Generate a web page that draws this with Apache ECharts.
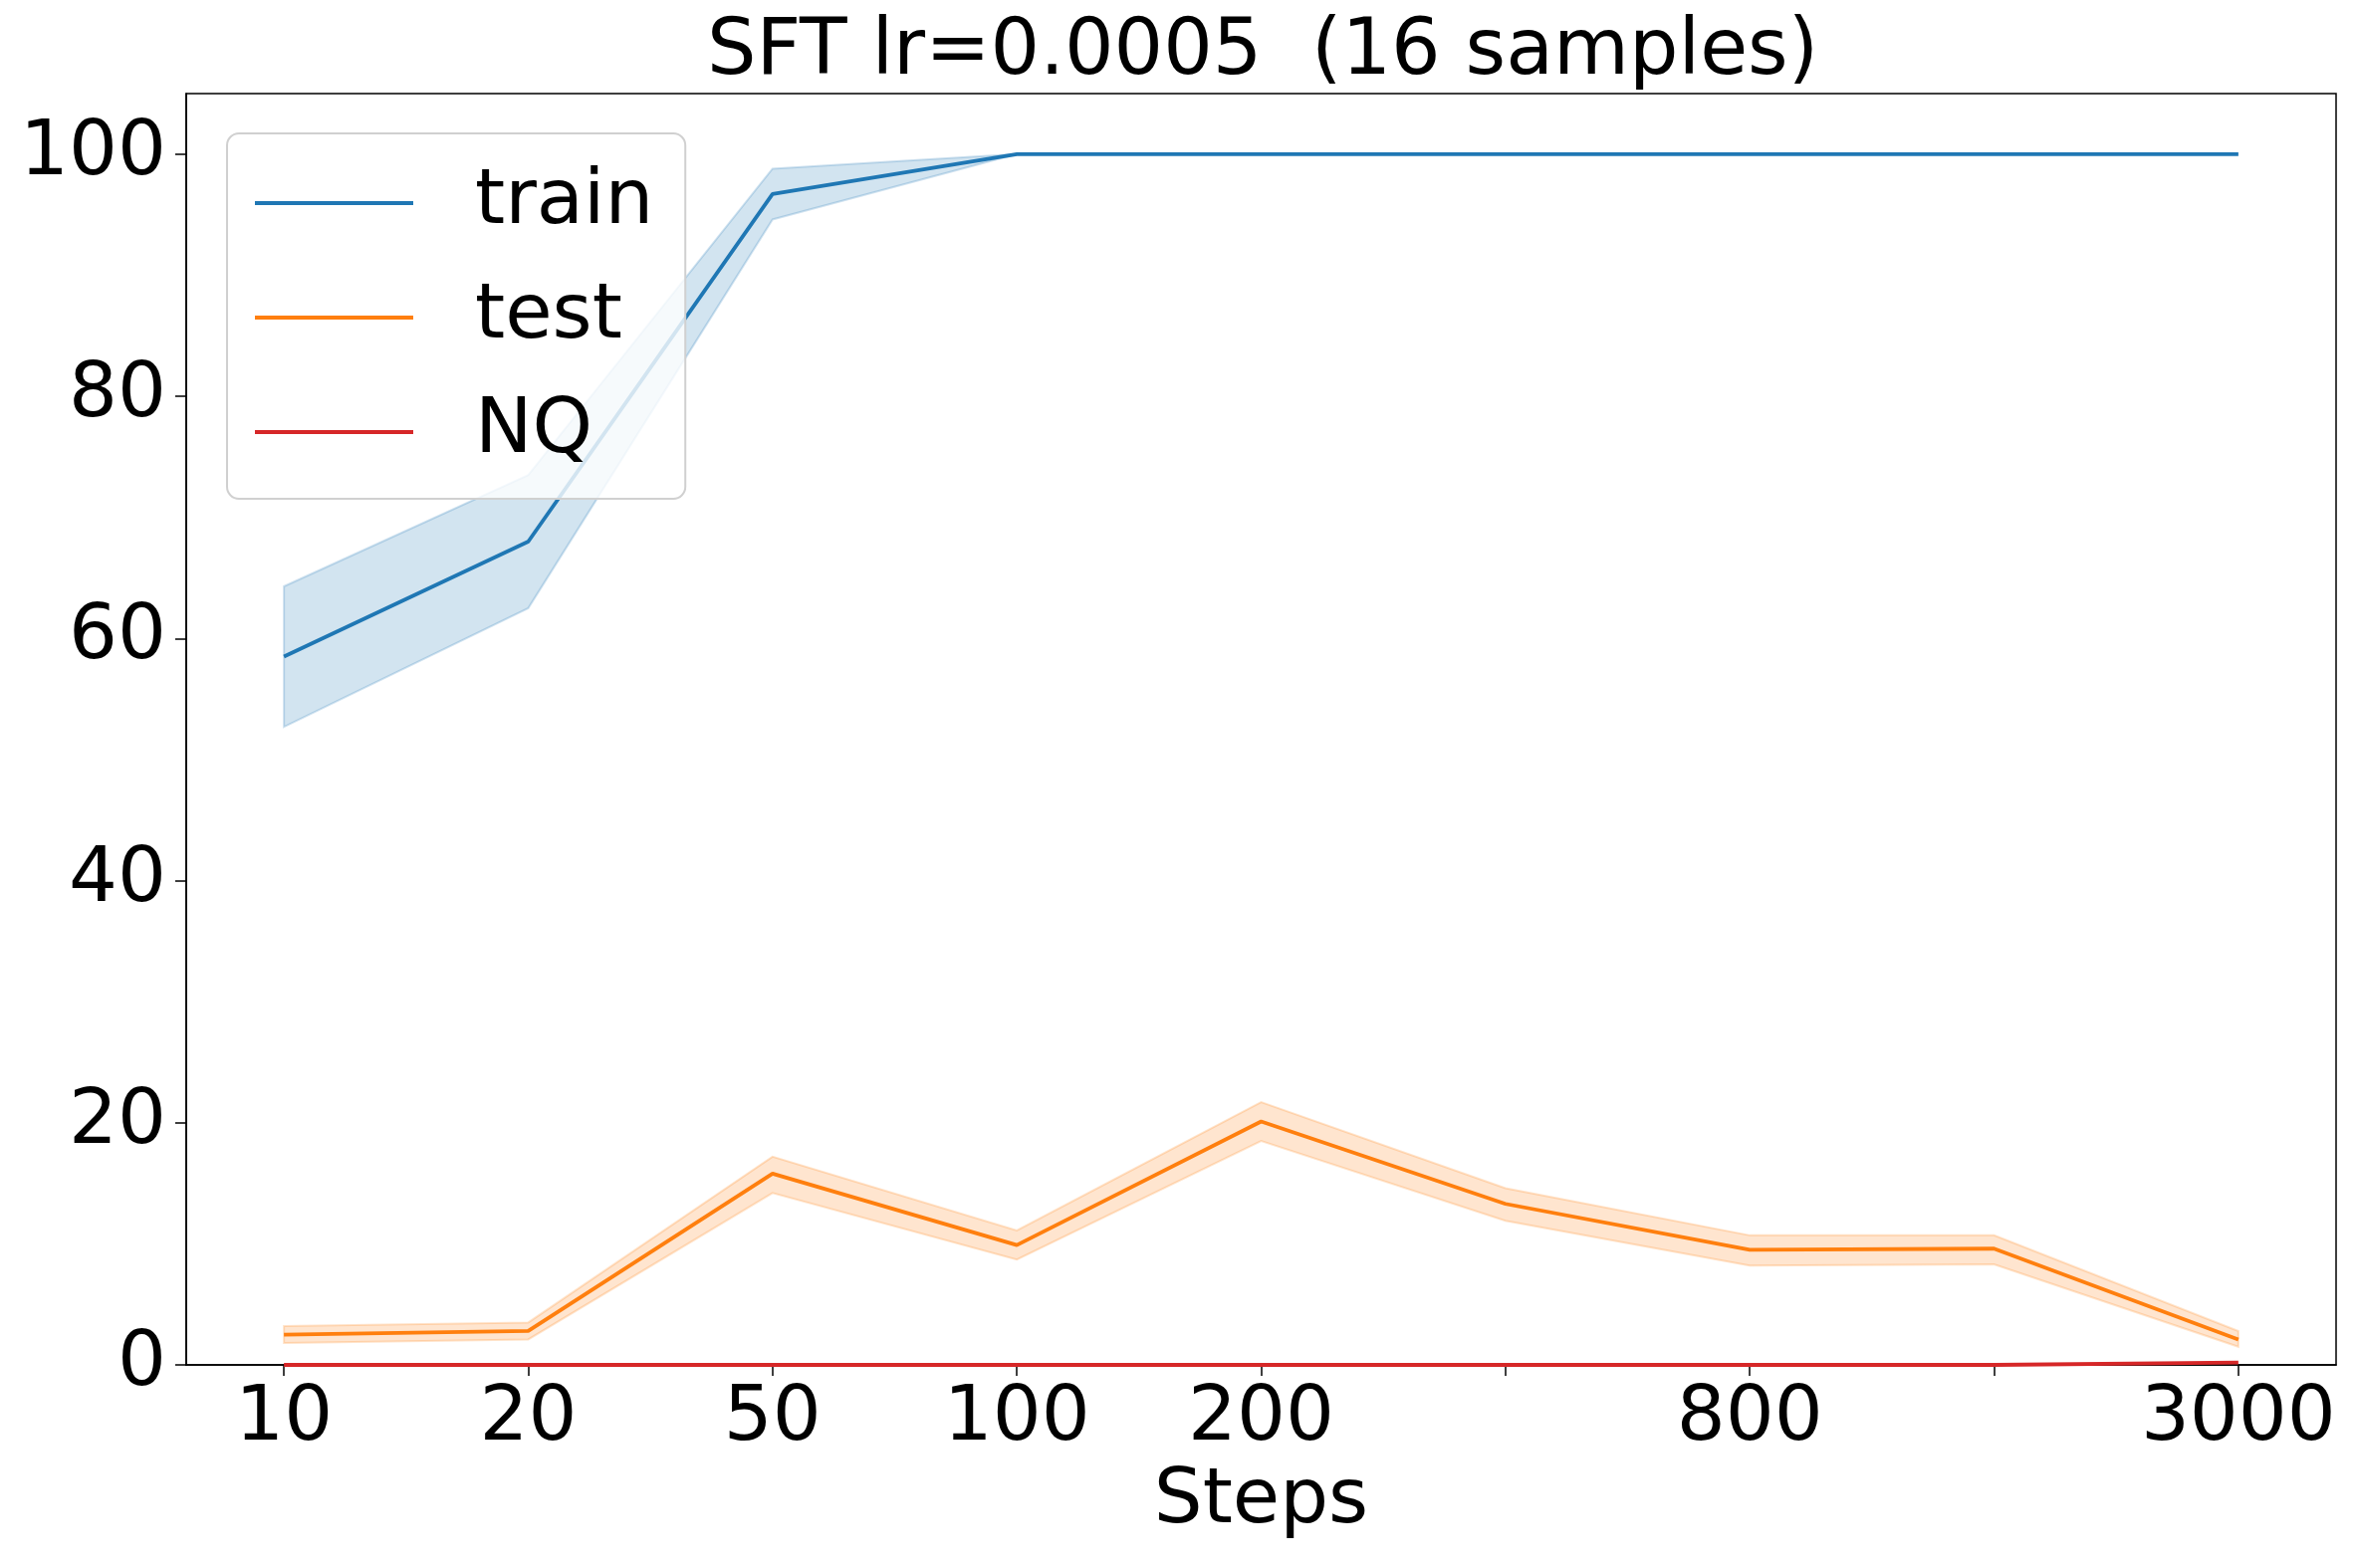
<!DOCTYPE html>
<html>
<head>
<meta charset="utf-8">
<script src="https://cdn.jsdelivr.net/npm/echarts@6/dist/echarts.min.js"></script>
<style>
  html, body { margin: 0; padding: 0; background: #fff; }
  #chart { width: 2365px; height: 1575px; }
</style>
</head>
<body>
<div id="chart"></div>
<script>
// x 轴标签（空字符串的位置只有刻度没有文字）
const stepLabels = ['10', '20', '50', '100', '200', '', '800', '', '3000']

// train
const trainMean = [58.5, 68.0, 96.7, 100, 100, 100, 100, 100, 100]
const trainLow = [52.7, 62.5, 94.6, 100, 100, 100, 100, 100, 100]
const trainHigh = [64.3, 73.5, 98.8, 100, 100, 100, 100, 100, 100]

// test
const testMean = [2.5, 2.8, 15.8, 9.9, 20.1, 13.3, 9.5, 9.6, 2.1]
const testLow = [1.8, 2.1, 14.2, 8.7, 18.5, 11.9, 8.2, 8.3, 1.5]
const testHigh = [3.2, 3.5, 17.2, 11.1, 21.7, 14.6, 10.7, 10.7, 2.8]

// NQ
const nqMean = [0, 0, 0, 0, 0, 0, 0, 0, 0.2]

const yTicks = [0, 20, 40, 60, 80, 100]

const FONT = 'DejaVu Sans'
const BLUE = '#1f77b4'
const ORANGE = '#ff7f0e'
const RED = '#d62728'

// 把数组转成 [index, value]
const pts = (arr) => arr.map((v, i) => [i, v])

// 置信区间带：用 custom 系列画一个多边形（下沿正向 + 上沿反向）
const band = (name, lo, hi, rgb) => ({
  name: name,
  type: 'custom',
  silent: true,
  data: lo.map((v, i) => [i, v, hi[i]]),
  encode: { x: 0, y: [1, 2] },
  z: 1,
  renderItem: (params, api) => {
    if (params.dataIndex !== 0) return null
    let lower = []
    let upper = []
    for (let j = 0; j < lo.length; j++) {
      lower.push(api.coord([api.value(0, j), api.value(1, j)]))
      upper.push(api.coord([api.value(0, j), api.value(2, j)]))
    }
    return {
      type: 'polygon',
      shape: { points: lower.concat(upper.reverse()) },
      style: {
        fill: `rgba(${rgb},0.2)`,
        stroke: `rgba(${rgb},0.22)`,
        lineWidth: 2
      }
    }
  }
})

const meanLine = (name, data, color) => ({
  name: name,
  type: 'line',
  data: pts(data),
  symbol: 'none',
  lineStyle: { color: color, width: 3.8 },
  itemStyle: { color: color },
  z: 3
})

let chart = echarts.init(document.getElementById('chart'))

let option = {
  animation: false,
  backgroundColor: '#fff',
  textStyle: { fontFamily: FONT },
  title: {
    text: 'SFT lr=0.0005  (16 samples)',
    left: 710,
    top: 15,
    padding: 0,
    textStyle: { fontFamily: FONT, fontSize: 78, fontWeight: 'normal', color: '#000' }
  },
  grid: {
    left: 187,
    right: 19,
    top: 94,
    bottom: 204,
    show: true,
    borderColor: '#000',
    borderWidth: 1.5,
    backgroundColor: 'transparent'
  },
  legend: {
    left: 228,
    top: 134,
    orient: 'vertical',
    data: [
      { name: 'train', icon: 'rect' },
      { name: 'test', icon: 'rect' },
      { name: 'NQ', icon: 'rect' }
    ],
    itemWidth: 159,
    itemHeight: 4,
    itemGap: 25,
    padding: [25, 32, 22, 28],
    backgroundColor: 'rgba(255,255,255,0.8)',
    borderColor: '#d0d0d0',
    borderWidth: 2,
    borderRadius: 12,
    textStyle: {
      fontFamily: FONT,
      fontSize: 77,
      lineHeight: 90,
      color: '#000',
      padding: [0, 0, 0, 57]
    }
  },
  xAxis: {
    type: 'value',
    min: -0.4,
    max: 8.4,
    name: 'Steps',
    nameLocation: 'middle',
    nameGap: 99,
    nameTextStyle: { fontFamily: FONT, fontSize: 77, color: '#000' },
    splitLine: { show: false },
    axisLine: { show: true, onZero: false, lineStyle: { color: '#000', width: 1.5 } },
    axisTick: {
      show: true,
      customValues: stepLabels.map((s, i) => i),
      length: 11,
      lineStyle: { color: '#000', width: 1.5 }
    },
    axisLabel: {
      customValues: stepLabels.map((s, i) => i),
      formatter: (v) => stepLabels[Math.round(v)],
      margin: 16,
      fontFamily: FONT,
      fontSize: 77,
      color: '#000'
    }
  },
  yAxis: {
    type: 'value',
    min: 0,
    max: 105,
    splitLine: { show: false },
    axisLine: { show: true, onZero: false, lineStyle: { color: '#000', width: 1.5 } },
    axisTick: {
      show: true,
      customValues: yTicks,
      length: 11,
      lineStyle: { color: '#000', width: 1.5 }
    },
    axisLabel: {
      customValues: yTicks,
      margin: 20,
      fontFamily: FONT,
      fontSize: 77,
      color: '#000'
    }
  },
  series: [
    band('trainBand', trainLow, trainHigh, '31,119,180'),
    band('testBand', testLow, testHigh, '255,127,14'),
    meanLine('train', trainMean, BLUE),
    meanLine('test', testMean, ORANGE),
    meanLine('NQ', nqMean, RED)
  ]
}

chart.setOption(option)

window.onresize = function () {
  chart.resize()
}
</script>
</body>
</html>
